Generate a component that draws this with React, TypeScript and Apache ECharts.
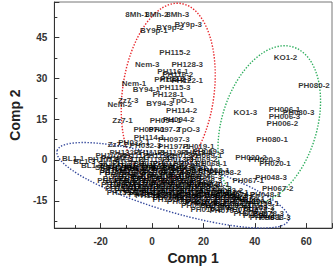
import React, { useEffect, useRef } from "react";
import * as echarts from "echarts";

type Pt = [string, number, number];

// Sample scores on the first two components
const upperCluster: Pt[] = [
  ["8Mh-1", -5.9, 53.4], ["8Mh-2", 1.9, 53.4], ["8Mh-3", 10.0, 53.4],
  ["BY9p-1", 0.7, 47.4], ["BY9p-2", 7.0, 48.5], ["BY9p-3", 14.1, 49.6],
  ["PH115-2", 8.9, 39.6], ["Nem-3", -1.9, 35.0], ["PH128-3", 13.7, 35.0],
  ["PH116-1", 8.1, 32.5], ["PH116-2", 10.0, 31.5], ["PH116-3", 9.3, 30.0],
  ["PH122-1", 13.7, 29.3], ["PH122-2", 7.0, 29.7], ["Nem-1", -7.0, 27.9],
  ["BY94-1", -2.2, 25.8], ["PH115-3", 8.9, 26.5], ["PH128-1", 6.3, 24.0],
  ["Zz7-3", -9.3, 21.9], ["Nem-2", -12.6, 20.5], ["BY94-3", 3.0, 20.8],
  ["TpO-1", 11.9, 21.9], ["PH114-2", 11.5, 18.3], ["Zz7-1", -11.5, 14.4],
  ["PH094-1", 5.2, 14.4], ["PH094-2", 10.4, 14.8], ["PH097-1", -1.1, 11.2],
  ["PH097-2", 4.8, 11.2], ["TpO-3", 14.1, 11.2], ["PH114-1", -1.1, 8.4],
  ["PH097-3", 8.5, 7.7], ["Zz7-2", -13.3, 5.6], ["PH032-1", -7.0, 6.3],
  ["PH032-3", -2.6, 5.2], ["PH197-1", 8.5, 4.9], ["PH019-1", 18.1, 4.9],
  ["PH069-3", 21.9, 3.1],
];

const rightCluster: Pt[] = [
  ["KO1-2", 51.9, 37.8], ["PH080-2", 63.0, 27.2], ["KO1-3", 36.3, 17.3],
  ["PH006-1", 51.5, 18.7], ["PH080-3", 57.0, 17.6], ["PH006-3", 51.5, 15.8],
  ["PH006-2", 50.7, 13.4], ["PH080-1", 46.7, 7.7], ["PH020-2", 38.5, 1.0],
  ["PH020-3", 43.7, 0.2], ["PH020-1", 47.8, -1.2], ["PH048-3", 46.3, -6.5],
  ["PH067-1", 37.4, -7.6], ["PH058-2", 28.5, -4.7], ["PH058-1", 24.1, -4.0],
  ["PH040-1", 24.1, -9.0], ["PH067-2", 48.9, -10.4], ["PH048-1", 44.1, -12.5],
  ["KO1-1", 19.3, -2.6],
];

const lowerBand: Pt[] = [
  ["BL1-1", -30.7, 0.6], ["BL1-3", -26.3, -0.5], ["BL1-2", -23.3, -1.9],
  ["PH107-2", -18.9, 0.2], ["PH107-3", -13.7, 0.6],
  ["PH132-1", -10.4, 2.7], ["PH111-3", -1.1, 2.7], ["PH119-1", 8.1, 2.7], ["PH013-2", 17.4, 2.7],
  ["PH107-1", -15.9, 1.7], ["PH111-1", -6.7, 1.7], ["PH119-2", 2.6, 1.7], ["PH013-1", 11.9, 1.7], ["PH069-1", 21.1, 1.7],
  ["PH111-2", -8.5, 0.2], ["PH119-3", 0.7, 0.2], ["PH013-3", 10.0, 0.2], ["PH069-2", 19.3, 0.2],
  ["SK1-1", -16.7, -1.2], ["PH132-2", -9.3, -1.2], ["PH012-1", -1.1, -1.2], ["PH012-2", 6.3, -1.2], ["PH043-1", 14.4, -1.2], ["PH068-1", 23.0, -1.2],
  ["SK1-2", -17.8, -2.6], ["PH132-3", -11.5, -2.6], ["PH012-3", -4.8, -2.6], ["PH043-2", 2.6, -2.6], ["PH043-3", 10.0, -2.6],
  ["SK1-3", -15.9, -4.0], ["PH023-1", -8.5, -4.0], ["PH023-2", -1.1, -4.0], ["PH023-3", 6.3, -4.0], ["PH068-3", 13.7, -4.0],
  ["PH027-1", -12.2, -5.4], ["PH027-2", -5.6, -5.4], ["PH027-3", 1.9, -5.4], ["PH031-1", 9.3, -5.4], ["PH031-2", 16.7, -5.4],
  ["PH031-3", -13.0, -6.8], ["PH036-1", -6.7, -6.8], ["PH036-2", 0.7, -6.8], ["PH036-3", 8.1, -6.8], ["PH039-1", 15.6, -6.8],
  ["PH039-2", -12.2, -8.2], ["PH039-3", -4.8, -8.2], ["PH044-1", 2.6, -8.2], ["PH044-2", 10.0, -8.2], ["PH044-3", 17.4, -8.2],
  ["PH051-1", -10.4, -9.7], ["PH051-2", -3.0, -9.7], ["PH051-3", 4.4, -9.7], ["PH055-1", 11.9, -9.7], ["PH055-2", 19.3, -9.7],
  ["PH055-3", -8.5, -11.1], ["PH060-1", -1.1, -11.1], ["PH060-2", 6.3, -11.1], ["PH060-3", 13.7, -11.1], ["PH063-1", 21.1, -11.1], ["PH063-2", 29.3, -11.1],
  ["PH063-3", -3.0, -12.5], ["PH071-1", 4.4, -12.5], ["PH071-2", 11.9, -12.5], ["PH071-3", 19.3, -12.5], ["PH074-1", 26.7, -12.5], ["PH074-2", 34.1, -12.5],
  ["PH074-3", 6.3, -13.9], ["PH083-1", 13.7, -13.9], ["PH083-2", 21.1, -13.9], ["PH083-3", 28.5, -13.9], ["PH087-1", 35.9, -13.9],
  ["PH087-2", 11.9, -15.4], ["PH087-3", 19.3, -15.4], ["PH090-1", 26.7, -15.4], ["PH090-2", 34.1, -15.4], ["PH090-3", 40.4, -15.4],
  ["PH010-1", 18.9, -15.7], ["PH093-1", 17.4, -16.8], ["PH093-2", 24.8, -16.8], ["PH093-3", 32.2, -16.8], ["PH101-1", 38.9, -16.8],
  ["PH010-2", 21.1, -18.2], ["PH076-1", 28.5, -18.5], ["PH076-2", 35.2, -18.2], ["PH078-2", 41.5, -18.5],
  ["PH078-1", 37.8, -19.6], ["PH078-3", 45.2, -19.6],
  ["PH098-1", 44.1, -21.0], ["PH098-2", 41.5, -20.3], ["PH098-3", 47.8, -21.0],
];

// Second batch of samples packed into the lower group
const lowerCore: Pt[] = [
  ["PH141-1", -14.1, -1.9], ["PH141-2", -5.9, -1.9], ["PH141-3", 1.9, -1.9], ["PH142-1", 10.7, -1.9],
  ["PH142-2", -13.0, -3.3], ["PH142-3", -4.8, -3.3], ["PH143-1", 5.6, -3.3], ["PH143-2", 15.6, -3.3],
  ["PH143-3", -14.4, -4.7], ["PH144-1", -6.7, -4.7], ["PH144-2", 2.6, -4.7], ["PH144-3", 10.7, -4.7], ["PH145-1", 19.3, -4.7],
  ["PH145-2", -9.3, -6.1], ["PH145-3", -1.9, -6.1], ["PH146-1", 5.6, -6.1], ["PH146-2", 13.0, -6.1], ["PH146-3", 21.1, -6.1],
  ["PH147-1", -15.2, -7.6], ["PH147-2", -8.5, -7.6], ["PH147-3", -1.1, -7.6], ["PH148-1", 6.3, -7.6], ["PH148-2", 13.7, -7.6], ["PH148-3", 21.1, -7.6],
  ["PH149-1", -13.7, -9.0], ["PH149-2", -7.8, -9.0], ["PH149-3", -1.1, -9.0], ["PH150-1", 5.6, -9.0], ["PH150-2", 13.0, -9.0], ["PH150-3", 20.4, -9.0],
  ["PH151-1", -12.2, -10.4], ["PH151-2", -5.6, -10.4], ["PH151-3", 1.9, -10.4], ["PH152-1", 9.3, -10.4], ["PH152-2", 16.7, -10.4], ["PH152-3", 24.8, -10.4],
  ["PH153-1", -11.5, -11.8], ["PH153-2", -4.8, -11.8], ["PH153-3", 1.9, -11.8], ["PH154-1", 9.3, -11.8], ["PH154-2", 16.7, -11.8], ["PH154-3", 24.1, -11.8], ["PH155-1", 31.5, -11.8],
  ["PH155-2", -0.4, -13.2], ["PH155-3", 8.1, -13.2], ["PH156-1", 15.6, -13.2], ["PH156-2", 23.0, -13.2], ["PH156-3", 30.7, -13.2],
  ["PH157-1", 6.3, -14.6], ["PH157-2", 15.6, -14.6], ["PH157-3", 30.4, -14.6], ["PH158-1", 37.8, -14.6],
  ["PH158-2", 23.0, -16.0], ["PH158-3", 30.4, -16.0], ["PH159-1", 43.3, -16.0],
  ["PH159-2", 26.7, -17.5], ["PH159-3", 41.5, -17.5],
];

// Group ellipses: centre x, centre y, half-width (x units), half-height (y units), tilt (deg)
const ellipseParams: number[][] = [
  [6.3, 24.8, 17.8, 33.0, -8],
  [45.6, 13.0, 18.5, 29.8, -17],
  [8.1, -9.3, 47.0, 9.6, -16.7],
];
const ellipseColors = ["#e8262b", "#2fae5e", "#34489c"];

const xTickLabels = [-20, 0, 20, 40, 60];
const yTickLabels = [-15, 0, 15, 30, 45];

const allPoints: Pt[] = [...upperCluster, ...rightCluster, ...lowerBand, ...lowerCore];

export default function App() {
  const ref = useRef<HTMLDivElement>(null);

  useEffect(() => {
    if (!ref.current) return;
    const chart = echarts.init(ref.current, null, { renderer: "svg" });
    const tickLabelStyle = {
      color: "#333",
      fontSize: 10,
      fontWeight: "bold" as const,
      fontFamily: "Liberation Sans, Arial, sans-serif",
    };
    const nameStyle = {
      color: "#222",
      fontSize: 14,
      fontWeight: "bold" as const,
      fontFamily: "Liberation Sans, Arial, sans-serif",
    };
    chart.setOption({
      animation: false,
      grid: {
        left: 41,
        top: 2,
        right: 3,
        bottom: 35,
        show: true,
        borderColor: "#777",
        borderWidth: 1,
        backgroundColor: "transparent",
      },
      xAxis: {
        type: "value",
        min: -38,
        max: 70,
        minInterval: 20,
        maxInterval: 20,
        name: "Comp 1",
        nameLocation: "middle",
        nameGap: 20,
        nameTextStyle: nameStyle,
        axisLine: { show: true, onZero: false, lineStyle: { color: "#333", width: 1 } },
        axisTick: { show: true, inside: true, length: 5, lineStyle: { color: "#333" } },
        minorTick: { show: true, splitNumber: 2, length: 3, lineStyle: { color: "#333" } },
        splitLine: { show: false },
        axisLabel: {
          ...tickLabelStyle,
          margin: 8,
          formatter: (v: number) => (xTickLabels.includes(v) ? String(v) : ""),
        },
      },
      yAxis: {
        type: "value",
        min: -25,
        max: 58,
        minInterval: 15,
        maxInterval: 15,
        name: "Comp 2",
        nameLocation: "middle",
        nameGap: 23,
        nameRotate: 90,
        nameTextStyle: nameStyle,
        axisLine: { show: true, onZero: false, lineStyle: { color: "#333", width: 1 } },
        axisTick: { show: true, inside: true, length: 5, lineStyle: { color: "#333" } },
        minorTick: { show: true, splitNumber: 2, length: 3, lineStyle: { color: "#333" } },
        splitLine: { show: false },
        axisLabel: {
          ...tickLabelStyle,
          margin: 7,
          formatter: (v: number) => (yTickLabels.includes(v) ? String(v) : ""),
        },
      },
      series: [
        {
          type: "custom",
          silent: true,
          z: 1,
          encode: { x: 0, y: 1 },
          data: ellipseParams,
          renderItem: (params: any, api: any) => {
            const c = api.coord([api.value(0), api.value(1)]);
            const rx = api.size([api.value(2), 0])[0];
            const ry = api.size([0, api.value(3)])[1];
            return {
              type: "ellipse",
              x: c[0],
              y: c[1],
              rotation: (api.value(4) * Math.PI) / 180,
              shape: { cx: 0, cy: 0, rx, ry },
              style: {
                fill: "none",
                stroke: ellipseColors[params.dataIndex],
                lineWidth: 1.4,
                lineDash: [1.4, 1.6],
              },
            };
          },
        },
        {
          type: "scatter",
          silent: true,
          z: 2,
          symbolSize: 1,
          itemStyle: { color: "transparent" },
          data: allPoints.map((p) => ({ name: p[0], value: [p[1], p[2]] })),
          label: {
            show: true,
            position: "inside",
            formatter: "{b}",
            color: "#000",
            fontSize: 8,
            fontWeight: "bold",
            fontFamily: "Liberation Sans, Arial, sans-serif",
          },
        },
      ],
    });
    return () => chart.dispose();
  }, []);

  return (
    <div
      ref={ref}
      style={{ position: "fixed", left: 0, top: 0, width: 335, height: 270, background: "#fff" }}
    />
  );
}
